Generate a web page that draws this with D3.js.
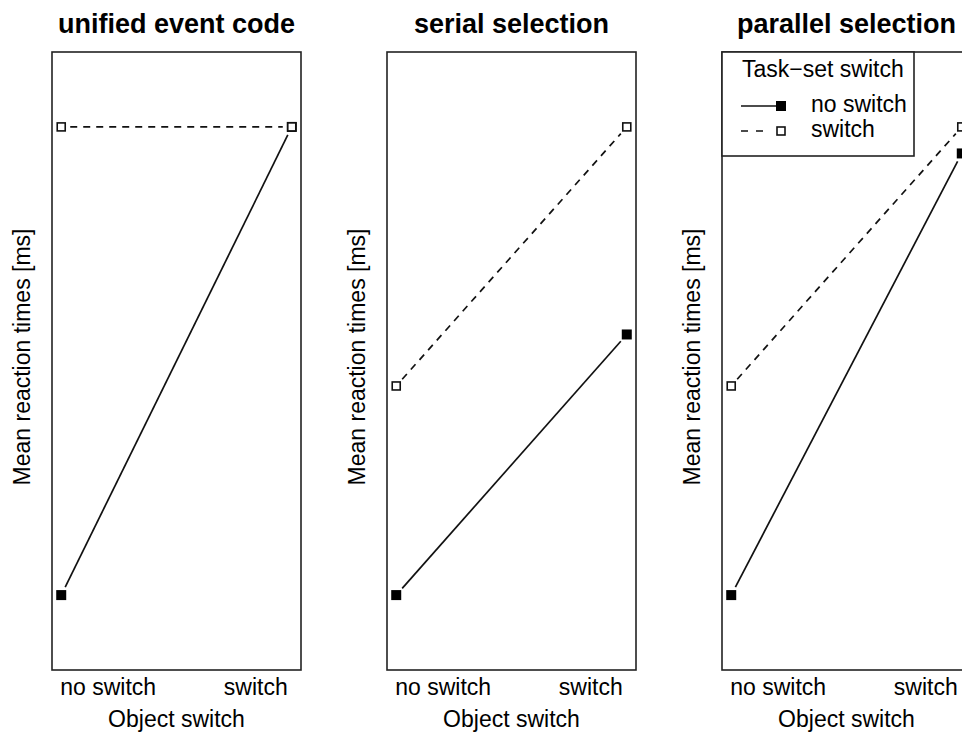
<!DOCTYPE html>
<html>
<head>
<meta charset="utf-8">
<script src="https://cdn.jsdelivr.net/npm/d3@7"></script>
<style>
  body { margin: 0; background: #fff; }
  svg { display: block; font-family: "Liberation Sans", Arial, sans-serif; }
</style>
</head>
<body>
<script>
// panel titles and x categories
const panelTitles = ["unified event code", "serial selection", "parallel selection"];
const objectLevels = ["no switch", "switch"];

// mean RT per panel, [object no switch, object switch]
const noTaskSwitch = [[450, 750], [450, 617], [450, 733]];
const taskSwitch = [[750, 750], [584, 750], [584, 750]];

const legendLabels = ["no switch", "switch"];

const W = 962, H = 733;
const boxW = 249, boxTop = 52, boxBottom = 670;

const svg = d3.select("body").append("svg")
  .attr("width", W).attr("height", H);

// panel positions
const panelX = d3.scaleLinear().domain([0, 1]).range([52, 387]);

// shared y scale (no ticks in original)
const y = d3.scaleLinear().domain([402, 798]).range([boxBottom, boxTop]);
// x within a panel, R style 4% padding
const x = d3.scaleLinear().domain([0.96, 2.04]).range([0, boxW]);

// cut the line short of markers, like type="b"
function gapSeg(p1, p2, g) {
  const dx = p2[0] - p1[0], dy = p2[1] - p1[1];
  const len = Math.sqrt(dx * dx + dy * dy);
  const ux = dx / len, uy = dy / len;
  return [[p1[0] + ux * g, p1[1] + uy * g], [p2[0] - ux * g, p2[1] - uy * g]];
}

panelTitles.forEach(function (title, i) {
  const g = svg.append("g")
    .attr("transform", "translate(" + panelX(i) + ",0)");

  g.append("text")
    .attr("x", boxW / 2).attr("y", 33)
    .attr("text-anchor", "middle")
    .attr("font-size", 27).attr("font-weight", "bold")
    .text(title);

  g.append("rect")
    .attr("x", 0).attr("y", boxTop)
    .attr("width", boxW).attr("height", boxBottom - boxTop)
    .attr("fill", "none").attr("stroke", "#222").attr("stroke-width", 1.6);

  // x tick labels
  g.append("text")
    .attr("x", x(1) - 1).attr("y", 695)
    .attr("text-anchor", "start").attr("font-size", 23)
    .text(objectLevels[0]);
  g.append("text")
    .attr("x", x(2) - 4).attr("y", 695)
    .attr("text-anchor", "end").attr("font-size", 23)
    .text(objectLevels[1]);

  g.append("text")
    .attr("x", boxW / 2).attr("y", 727)
    .attr("text-anchor", "middle").attr("font-size", 23)
    .text("Object switch");

  g.append("text")
    .attr("transform", "translate(-22,357) rotate(-90)")
    .attr("text-anchor", "middle").attr("font-size", 23)
    .text("Mean reaction times [ms]");

  // no task switch: solid line, filled squares
  const p0 = noTaskSwitch[i].map(function (v, j) { return [x(j + 1), y(v)]; });
  const s0 = gapSeg(p0[0], p0[1], 9);
  g.append("line")
    .attr("x1", s0[0][0]).attr("y1", s0[0][1])
    .attr("x2", s0[1][0]).attr("y2", s0[1][1])
    .attr("stroke", "#111").attr("stroke-width", 1.7);
  g.selectAll(".filled").data(p0).enter().append("rect")
    .attr("x", function (d) { return d[0] - 5; })
    .attr("y", function (d) { return d[1] - 5; })
    .attr("width", 10).attr("height", 10)
    .attr("fill", "#000");

  // task switch: dashed line, open squares
  const p1 = taskSwitch[i].map(function (v, j) { return [x(j + 1), y(v)]; });
  const s1 = gapSeg(p1[0], p1[1], 9);
  g.append("line")
    .attr("x1", s1[0][0]).attr("y1", s1[0][1])
    .attr("x2", s1[1][0]).attr("y2", s1[1][1])
    .attr("stroke", "#111").attr("stroke-width", 1.7)
    .attr("stroke-dasharray", "7,6");
  g.selectAll(".open").data(p1).enter().append("rect")
    .attr("x", function (d) { return d[0] - 4; })
    .attr("y", function (d) { return d[1] - 4; })
    .attr("width", 8).attr("height", 8)
    .attr("fill", "#fff").attr("stroke", "#111").attr("stroke-width", 1.6);

  // legend in last panel
  if (i === panelTitles.length - 1) {
    const lg = g.append("g");
    lg.append("rect")
      .attr("x", 0).attr("y", boxTop)
      .attr("width", 192).attr("height", 104)
      .attr("fill", "#fff").attr("stroke", "#222").attr("stroke-width", 1.6);
    lg.append("text")
      .attr("x", 20).attr("y", 77).attr("font-size", 23)
      .text("Task\u2212set switch");

    legendLabels.forEach(function (lab, k) {
      const ly = 106 + k * 25;
      lg.append("line")
        .attr("x1", 19).attr("x2", k === 0 ? 56 : 44)
        .attr("y1", ly).attr("y2", ly)
        .attr("stroke", "#111").attr("stroke-width", 1.7)
        .attr("stroke-dasharray", k === 0 ? null : "7,8");
      if (k === 0) {
        lg.append("rect").attr("x", 54).attr("y", ly - 5)
          .attr("width", 10).attr("height", 10).attr("fill", "#000");
      } else {
        lg.append("rect").attr("x", 55).attr("y", ly - 4)
          .attr("width", 8).attr("height", 8)
          .attr("fill", "#fff").attr("stroke", "#111").attr("stroke-width", 1.6);
      }
      lg.append("text")
        .attr("x", 89).attr("y", ly + 6).attr("font-size", 23)
        .text(lab);
    });
  }
});
</script>
</body>
</html>
